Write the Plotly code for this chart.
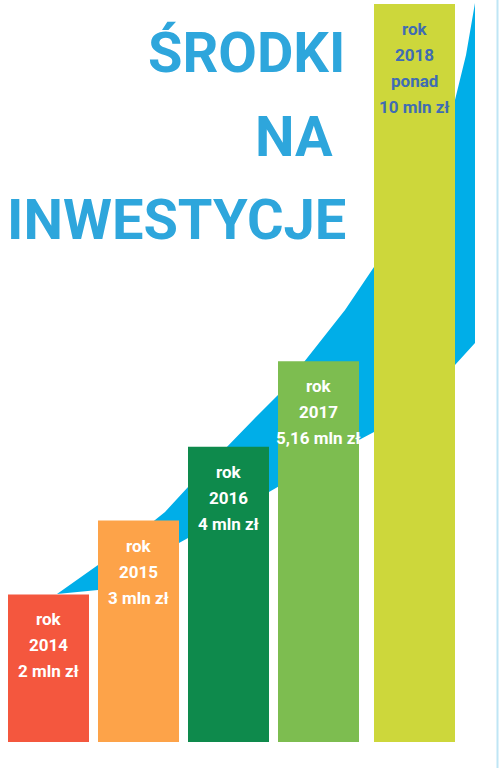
import plotly.graph_objects as go

YEARS = [2014, 2015, 2016, 2017, 2018]
VALUES = [2, 3, 4, 5.16, 10]  # mln zł
AMOUNT_LABELS = [["2 mln zł"], ["3 mln zł"], ["4 mln zł"], ["5,16 mln zł"], ["ponad", "10 mln zł"]]
BAR_COLORS = ["#f4573e", "#fda349", "#0e8a4c", "#7dbd50", "#cdd73b"]
LABEL_COLORS = ["#ffffff", "#ffffff", "#ffffff", "#ffffff", "#3f6cb3"]
TITLE_LINES = ["ŚRODKI", "NA", "INWESTYCJE"]

W, H = 499, 768
TOP, BOTTOM = 4, 742          # plot area in pixels
PX_PER_YEAR = 90
BAR_W = 81 / PX_PER_YEAR
SHIFT_PX = [0, 0, 0, 0, 6]    # last bar sits a bit further right
X0 = YEARS[0] - 48.5 / PX_PER_YEAR
FONT = "Roboto, Liberation Sans, sans-serif"
BLUE = "#2ea6dc"


def paper(px, py):
    return px / W, (BOTTOM - py) / (BOTTOM - TOP)


# decorative swoosh behind the bars, outlined in pixel space
upper = [(57, 594), (98, 565), (140, 532), (165, 512), (188, 487), (255, 418),
         (278, 395), (345, 310), (374, 267), (420, 178), (455, 100), (466, 55), (475, 3)]
lower = [(475, 343), (455, 365), (374, 432), (359, 440), (269, 492), (188, 538),
         (179, 543), (98, 590)]
pts = [paper(*p) for p in upper + lower]
swoosh = "M " + " L ".join(f"{x:.4f},{y:.4f}" for x, y in pts) + " Z"

offsets = [-BAR_W / 2 + s / PX_PER_YEAR for s in SHIFT_PX]

fig = go.Figure(
    go.Bar(
        x=YEARS,
        y=VALUES,
        width=BAR_W,
        offset=offsets,
        marker=dict(color=BAR_COLORS, line=dict(width=0)),
        hoverinfo="skip",
    )
)

fig.add_shape(type="path", path=swoosh, xref="paper", yref="paper",
              fillcolor="#00aee8", line=dict(width=0), layer="below")
fig.add_shape(type="line", xref="paper", yref="paper",
              x0=497.5 / W, x1=497.5 / W, y0=paper(0, H)[1], y1=paper(0, 0)[1],
              line=dict(color="#bfe6f5", width=2))

# labels inside bars, one annotation per line so the spacing can be set
for yr, v, amt, col, off in zip(YEARS, VALUES, AMOUNT_LABELS, LABEL_COLORS, offsets):
    for i, txt in enumerate(["rok", str(yr)] + amt):
        fig.add_annotation(
            x=yr + off + BAR_W / 2, y=v, xref="x", yref="y",
            text=txt, showarrow=False,
            yanchor="middle", yshift=-(25 + 26 * i),
            font=dict(family=FONT, size=17, color=col, weight="bold"),
        )

# big title, right-aligned lines
for line, (rx, cy) in zip(TITLE_LINES, [(347, 53), (335, 137), (348, 220)]):
    x, y = paper(rx, cy)
    fig.add_annotation(
        x=x, y=y, xref="paper", yref="paper", text=line, showarrow=False,
        xanchor="right", yanchor="middle",
        font=dict(family=FONT, size=56, color=BLUE, weight="bold"),
    )

fig.update_layout(
    width=W, height=H,
    margin=dict(l=0, r=0, t=TOP, b=H - BOTTOM),
    paper_bgcolor="white", plot_bgcolor="white",
    showlegend=False,
    xaxis=dict(range=[X0, X0 + W / PX_PER_YEAR], visible=False),
    yaxis=dict(range=[0, 10], visible=False),
)

fig.write_html("out.html", config={"displayModeBar": False},
               post_script="document.body.style.margin = '0';")
